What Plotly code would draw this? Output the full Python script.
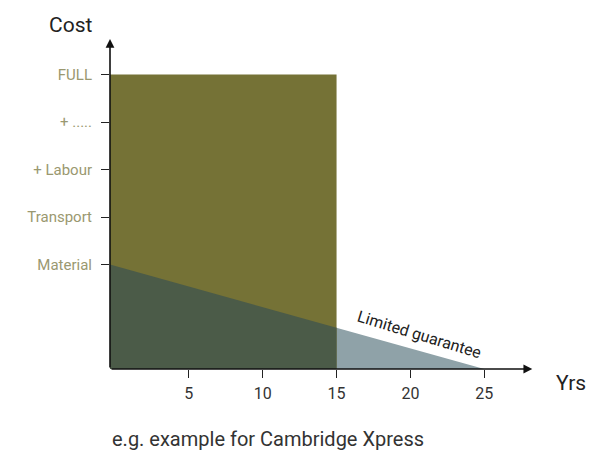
import plotly.graph_objects as go

# Data
years_ticks = [5, 10, 15, 20, 25]
cost_levels = [2.2, 3.2, 4.2, 5.2, 6.2]
cost_labels = ["Material", "Transport", "+ Labour", "+ .....", "FULL"]
full_cover_years = 15
full_cost = 6.2
guarantee_end_year = 25
material_cost = 2.2

x_min, x_max = -0.34, 28.3
y_min, y_max = 0, 6.97

OLIVE = "#757236"
DARK = "#4b5b48"
LIGHT = "#8fa2a8"

def line_at(x):
    return material_cost + (0 - material_cost) * (x - x_min) / (guarantee_end_year - x_min)

y15 = line_at(full_cover_years)

fig = go.Figure()
fig.add_trace(go.Scatter(
    x=[x_min, x_min, guarantee_end_year, x_min], y=[0, material_cost, 0, 0],
    fill="toself", fillcolor=LIGHT, line=dict(width=0), mode="lines", hoverinfo="skip"))
fig.add_trace(go.Scatter(
    x=[x_min, x_min, full_cover_years, full_cover_years, x_min], y=[0, full_cost, full_cost, 0, 0],
    fill="toself", fillcolor=OLIVE, line=dict(width=0), mode="lines", hoverinfo="skip"))
fig.add_trace(go.Scatter(
    x=[x_min, x_min, full_cover_years, full_cover_years, x_min], y=[0, material_cost, y15, 0, 0],
    fill="toself", fillcolor=DARK, line=dict(width=0), mode="lines", hoverinfo="skip"))

font = "Roboto"
W, H = 589, 451
pl, pt = 110, 38
pr = W - 533
pb = H - 369
pw, ph = W - pl - pr, H - pt - pb

def px(xs):
    return (xs - pl) / pw

def py(ys):
    return (H - pb - ys) / ph

fig.update_layout(
    width=W, height=H, showlegend=False,
    margin=dict(l=pl, r=pr, t=pt, b=pb),
    paper_bgcolor="white", plot_bgcolor="white",
    font=dict(family=font),
    xaxis=dict(range=[x_min, x_max], tickvals=years_ticks, ticktext=[str(v) for v in years_ticks],
               ticks="outside", ticklen=8, tickcolor="#222", tickwidth=1.2,
               showgrid=False, zeroline=False, showline=False, ticklabelstandoff=2,
               tickfont=dict(size=16, color="#333")),
    yaxis=dict(range=[y_min, y_max], tickvals=cost_levels, ticktext=cost_labels,
               ticks="outside", ticklen=8, tickcolor="#222", tickwidth=1.2,
               showgrid=False, zeroline=False, showline=False, ticklabelstandoff=6,
               tickfont=dict(size=15, color="#9a9870")),
)

fig.add_annotation(x=x_max - 0.05, y=0, ax=x_min, ay=0, xref="x", yref="y", axref="x", ayref="y",
                   showarrow=True, arrowhead=2, arrowsize=1.1, arrowwidth=1.6, arrowcolor="#111", text="")
fig.add_annotation(x=x_min, y=y_max - 0.02, ax=x_min, ay=0, xref="x", yref="y", axref="x", ayref="y",
                   showarrow=True, arrowhead=2, arrowsize=1.1, arrowwidth=1.6, arrowcolor="#111", text="")

common = dict(xref="paper", yref="paper", showarrow=False, xanchor="center", yanchor="middle")
fig.add_annotation(text="Cost", x=px(70), y=py(25), font=dict(size=21, color="#222", family=font), **common)
fig.add_annotation(text="Yrs", x=px(571), y=py(383), font=dict(size=21, color="#222", family=font), **common)
fig.add_annotation(text="e.g. example for Cambridge Xpress", x=px(268), y=py(439),
                   font=dict(size=20, color="#333", family=font), **common)
fig.add_annotation(text="Limited guarantee", x=20.6, y=0.72, xref="x", yref="y", showarrow=False,
                   xanchor="center", yanchor="middle",
                   textangle=17, font=dict(size=16, color="#222", family=font))

fig.write_html("out.html", config={"displayModeBar": False},
               post_script="document.body.style.margin='0';document.body.style.overflow='hidden';")
